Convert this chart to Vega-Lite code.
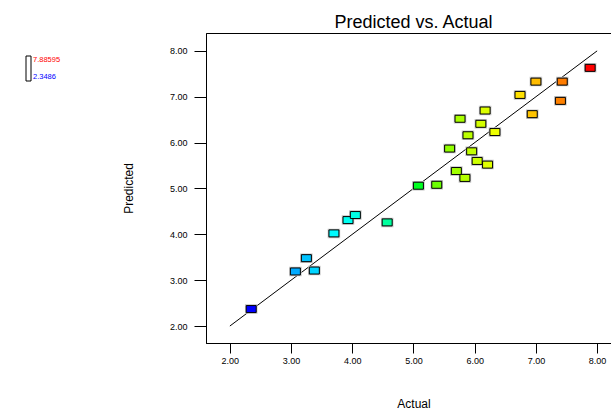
{
  "$schema": "https://vega.github.io/schema/vega-lite/v6.json",
  "width": 415,
  "height": 310,
  "autosize": "none",
  "padding": {"left": 206, "top": 33, "right": 0, "bottom": 67},
  "background": "white",
  "config": {
    "view": {"stroke": "#000000", "strokeWidth": 1},
    "font": "Liberation Sans"
  },
  "title": {
    "text": "Predicted vs. Actual",
    "font": "Liberation Sans",
    "fontSize": 18,
    "fontWeight": "normal",
    "color": "#000000",
    "anchor": "middle",
    "offset": 1
  },
  "datasets": {
    "points": [
      {"Actual": 2.3486, "Predicted": 2.37},
      {"Actual": 3.07, "Predicted": 3.19},
      {"Actual": 3.25, "Predicted": 3.48},
      {"Actual": 3.38, "Predicted": 3.21},
      {"Actual": 3.70, "Predicted": 4.02},
      {"Actual": 3.93, "Predicted": 4.31},
      {"Actual": 4.05, "Predicted": 4.42},
      {"Actual": 4.57, "Predicted": 4.26},
      {"Actual": 5.08, "Predicted": 5.06},
      {"Actual": 5.38, "Predicted": 5.08},
      {"Actual": 5.59, "Predicted": 5.87},
      {"Actual": 5.70, "Predicted": 5.38},
      {"Actual": 5.84, "Predicted": 5.23},
      {"Actual": 5.76, "Predicted": 6.52},
      {"Actual": 5.89, "Predicted": 6.16},
      {"Actual": 5.95, "Predicted": 5.81},
      {"Actual": 6.04, "Predicted": 5.60},
      {"Actual": 6.10, "Predicted": 6.41},
      {"Actual": 6.17, "Predicted": 6.70},
      {"Actual": 6.21, "Predicted": 5.52},
      {"Actual": 6.33, "Predicted": 6.23},
      {"Actual": 6.74, "Predicted": 7.04},
      {"Actual": 6.94, "Predicted": 6.62},
      {"Actual": 7.00, "Predicted": 7.33},
      {"Actual": 7.40, "Predicted": 6.91},
      {"Actual": 7.43, "Predicted": 7.33},
      {"Actual": 7.88595, "Predicted": 7.63}
    ],
    "diag": [
      {"Actual": 2, "Predicted": 2},
      {"Actual": 8, "Predicted": 8}
    ]
  },
  "encoding": {
    "x": {
      "field": "Actual",
      "type": "quantitative",
      "scale": {"domain": [1.61, 8.39], "nice": false, "zero": false},
      "axis": {
        "title": "Actual",
        "values": [2, 3, 4, 5, 6, 7, 8],
        "format": ".2f",
        "grid": false,
        "domainColor": "#000000",
        "tickColor": "#000000",
        "tickSize": 10,
        "labelPadding": 3,
        "labelFont": "Liberation Sans",
        "labelFontSize": 9,
        "labelColor": "#000000",
        "titleFont": "Liberation Sans",
        "titleFontSize": 12,
        "titleFontWeight": "normal",
        "titleColor": "#000000",
        "titleY": 60,
        "titleBaseline": "middle"
      }
    },
    "y": {
      "field": "Predicted",
      "type": "quantitative",
      "scale": {"domain": [1.63, 8.39], "nice": false, "zero": false},
      "axis": {
        "title": "Predicted",
        "values": [2, 3, 4, 5, 6, 7, 8],
        "format": ".2f",
        "grid": false,
        "domainColor": "#000000",
        "tickColor": "#000000",
        "tickSize": 12,
        "labelPadding": 7,
        "labelFont": "Liberation Sans",
        "labelFontSize": 9,
        "labelColor": "#000000",
        "titleFont": "Liberation Sans",
        "titleFontSize": 12,
        "titleFontWeight": "normal",
        "titleColor": "#000000",
        "titleX": -78,
        "titleY": 155,
        "titleBaseline": "middle",
        "titleAlign": "center"
      }
    }
  },
  "layer": [
    {
      "data": {"name": "diag"},
      "mark": {"type": "line", "color": "#000000", "strokeWidth": 1},
      "encoding": {}
    },
    {
      "data": {"name": "points"},
      "mark": {
        "type": "point",
        "shape": "M-1,-0.7H1V0.7H-1Z",
        "size": 0,
        "filled": true,
        "strokeWidth": 0
      },
      "encoding": {
        "fill": {
          "field": "Actual",
          "type": "quantitative",
          "scale": {
            "type": "linear",
            "domain": [2.3486, 7.88595],
            "range": ["#ffffff", "#ffffff"]
          },
          "legend": {
            "title": null,
            "orient": "none",
            "legendX": -180,
            "legendY": 23,
            "direction": "vertical",
            "gradientLength": 25,
            "gradientThickness": 5,
            "gradientOpacity": 1,
            "gradientStrokeColor": "#000000",
            "gradientStrokeWidth": 1,
            "values": [2.3486, 7.88595],
            "labelExpr": "'' + datum.value",
            "labelFont": "Liberation Sans",
            "labelFontSize": 7.5,
            "labelOffset": 2,
            "labelColor": {"expr": "datum.value > 5 ? '#ff0000' : '#0000ff'"}
          }
        }
      }
    },
    {
      "data": {"name": "points"},
      "mark": {
        "type": "point",
        "shape": "M-1,-0.7H1V0.7H-1Z",
        "size": 100,
        "filled": false,
        "stroke": "#c4c4c4",
        "strokeWidth": 2.5,
        "opacity": 1
      },
      "encoding": {}
    },
    {
      "data": {"name": "points"},
      "mark": {
        "type": "point",
        "shape": "M-1,-0.7H1V0.7H-1Z",
        "size": 100,
        "filled": true,
        "stroke": "#000000",
        "strokeWidth": 1,
        "opacity": 1
      },
      "encoding": {
        "color": {
          "field": "Actual",
          "type": "quantitative",
          "scale": {
            "type": "linear",
            "domain": [2.3486, 3.7354, 5.1173, 6.5016, 7.88595],
            "range": ["#0000ff", "#00ffff", "#00ff00", "#ffff00", "#ff0000"]
          },
          "legend": null
        }
      }
    }
  ]
}
